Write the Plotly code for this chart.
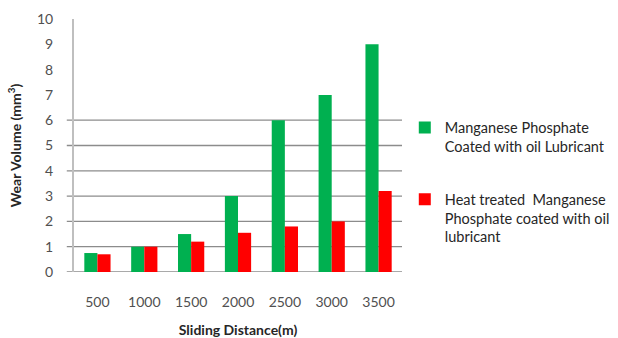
import plotly.graph_objects as go

distances = ["500", "1000", "1500", "2000", "2500", "3000", "3500"]
coated = [0.75, 1.0, 1.5, 3.0, 6.0, 7.0, 9.0]
heat_treated = [0.7, 1.0, 1.2, 1.55, 1.8, 2.0, 3.2]
grid_values = [0, 1, 2, 3, 4, 5, 6]
y_ticks = list(range(0, 11))

font_family = "Lato, 'Open Sans', sans-serif"

fig = go.Figure()
fig.add_trace(go.Bar(
    x=distances, y=coated, legendgroup="coated",
    name="Manganese Phosphate<br>Coated with oil Lubricant",
    marker=dict(color="#00B050", line=dict(width=0)),
))
fig.add_trace(go.Bar(
    x=distances, y=heat_treated, legendgroup="heat",
    name="Heat treated  Manganese<br>Phosphate coated with oil<br>lubricant",
    marker=dict(color="#FF0000", line=dict(width=0)),
))

# horizontal rules, extended slightly left of the value axis
for v in grid_values:
    fig.add_shape(type="line", xref="paper", yref="y",
                  x0=-0.022, x1=1.0, y0=v, y1=v,
                  line=dict(color="#8c8c8c", width=1.3), layer="below")

fig.update_layout(
    width=618, height=338,
    margin=dict(l=74, r=216, t=19, b=66, autoexpand=False),
    paper_bgcolor="white", plot_bgcolor="white",
    barmode="group", bargap=0.44, bargroupgap=0,
    font=dict(family=font_family, size=14, color="#404040"),
    showlegend=True,
    legend=dict(xref="container", yref="container",
                x=0.655, y=0.46, xanchor="left", yanchor="middle",
                font=dict(family=font_family, size=14.5, color="#262626"),
                tracegroupgap=31, itemwidth=30, valign="top",
                traceorder="grouped",
                bgcolor="rgba(0,0,0,0)"),
    xaxis=dict(type="category", showgrid=False, showline=False, ticks="",
               automargin=False, ticklabelstandoff=20,
               tickfont=dict(size=14, color="#505050"),
               title=dict(text="<b>Sliding Distance(m)</b>", standoff=27,
                          font=dict(size=14, color="#262626"))),
    yaxis=dict(range=[0, 10], tickvals=y_ticks, showgrid=False, zeroline=False,
               showline=True, linecolor="#bfbfbf", linewidth=2, ticks="",
               automargin=False, ticklabelstandoff=16,
               tickfont=dict(size=14, color="#505050"),
               title=dict(text="<b>Wear Volume (mm<sup>3</sup>)</b>", standoff=12,
                          font=dict(size=14, color="#262626"))),
)

fig.write_html("out.html")
